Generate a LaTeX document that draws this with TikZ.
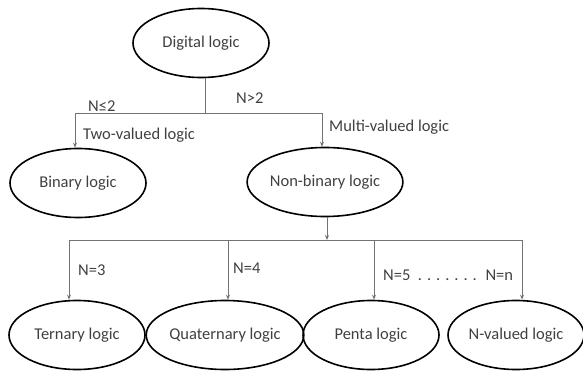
\documentclass[tikz,border=0pt]{standalone}
\usepackage{fontspec}
\setmainfont{Carlito}
\usetikzlibrary{shapes.geometric,arrows.meta}
\begin{document}
\begin{tikzpicture}[x=1pt,y=-1pt,
  oval/.style={ellipse,draw=black,line width=1.6pt,minimum width=136pt,minimum height=69pt,inner sep=0pt,text=black!75,font=\fontsize{16.5}{19}\selectfont},
  conn/.style={draw=black!55,line width=1pt},
  arr/.style={conn,-{Stealth[length=5pt,width=4pt]}},
  lbl/.style={text=black!75,font=\fontsize{16.5}{19}\selectfont,inner sep=0pt}]
\useasboundingbox (0,0) rectangle (583,372);
\node[oval] (dl) at (201,43) {Digital logic};
\node[oval] (bin) at (78,183) {Binary logic};
\node[oval] (nb) at (325,182) {Non-binary logic};
\node[oval] (ter) at (77,335) {Ternary logic};
\node[oval] (qua) at (225,335) {Quaternary logic};
\node[oval] (pen) at (371,335) {Penta logic};
\node[oval] (nv) at (516,335) {N-valued logic};
\coordinate (j1) at (205,113);
\coordinate (j2) at (327,240);
\draw[conn] ([xshift=4pt]dl.south) -- (j1);
\draw[arr] (j1) -| ([xshift=-3pt]bin.north);
\draw[arr] (j1) -| ([xshift=-3pt]nb.north);
\draw[arr] ([xshift=2pt]nb.south) -- (j2);
\draw[arr] (j2) -| ([xshift=-8pt]ter.north);
\draw[arr] (j2) -| ([xshift=3pt]qua.north);
\draw[arr] (j2) -| ([xshift=3pt]pen.north);
\draw[arr] (j2) -| ([xshift=6pt]nv.north);
\node[lbl,anchor=west] (l1) at (88,106) {N≤2};
\node[lbl,anchor=west] (l2) at (236,98) {N>2};
\node[lbl,anchor=west] (l3) at (83,135) {Two-valued logic};
\node[lbl,anchor=west] (l4) at (329,127) {Multi-valued logic};
\node[lbl,anchor=west] (l5) at (78,270) {N=3};
\node[lbl,anchor=west] (l6) at (233,268) {N=4};
\node[lbl,anchor=west] (l7) at (383,275) {N=5 \ . . . . . . . \ N=n};
\end{tikzpicture}
\end{document}
